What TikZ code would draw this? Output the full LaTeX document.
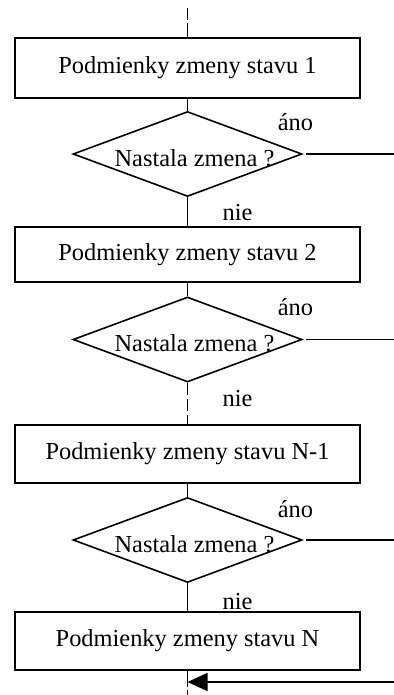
\documentclass[tikz,border=0pt]{standalone}
\usepackage{fontspec}
\setmainfont{Liberation Serif}
\usetikzlibrary{shapes.geometric,arrows.meta,calc}

\begin{document}
\begin{tikzpicture}[x=0.5pt, y=-0.5pt, line width=0.8pt,
    font=\fontsize{12.2}{14}\selectfont,
    stav/.style={draw, rectangle, minimum width=172.5pt, inner sep=0pt},
    otazka/.style={draw, diamond, minimum width=114.5pt, minimum height=42.5pt, inner sep=0pt},
    prerus/.style={dash pattern=on 6pt off 2pt}]

        \useasboundingbox (0,0) rectangle (394,695);

        % Vstup
        \coordinate (vstup) at (187.5,8);

        % Stav 1
        \node[stav, minimum height=30pt] (s1) at (187.5,68) {Podmienky zmeny stavu 1};
        \node[otazka, label={[xshift=3.5pt, yshift=-2pt]center:Nastala zmena ?}] (o1) at (187.5,154) {};
        \coordinate (v1) at (394,154);

        % Stav 2
        \node[stav, minimum height=27.5pt] (s2) at (187.5,254.5) {Podmienky zmeny stavu 2};
        \node[otazka, label={[xshift=3.5pt, yshift=-2pt]center:Nastala zmena ?}] (o2) at (187.5,339.5) {};
        \coordinate (v2) at (394,339.5);

        % Stav N-1
        \node[stav, minimum height=29pt] (s3) at (187.5,454) {Podmienky zmeny stavu N-1};
        \node[otazka, label={[xshift=3.5pt, yshift=-2pt]center:Nastala zmena ?}] (o3) at (187.5,540) {};
        \coordinate (v3) at (394,540);

        % Stav N
        \node[stav, minimum height=29pt] (s4) at (187.5,641) {Podmienky zmeny stavu N};

        % Navrat a vystup
        \coordinate (navrat) at (394,682);
        \coordinate (koniec) at (187.5,695);

        % Spojenia
        \draw[dash pattern=on 6pt off 1.5pt on 10pt] (vstup) -- (s1);
        \draw (s1) -- (o1);
        \draw (o1) -- (s2);
        \draw (s2) -- (o2);
        \draw[prerus] (o2) -- (s3);
        \draw (s3) -- (o3);
        \draw (o3) -- (s4);
        \draw[dash pattern=on 8pt off 1.5pt] (s4) -- (koniec);

        % Vetvy áno
        \draw[shorten <=1.5pt] (o1.east) -- (v1);
        \draw[shorten <=1.5pt] (o2.east) -- (v2);
        \draw[shorten <=1.5pt] (o3.east) -- (v3);
        \draw[-{Triangle[length=10pt, width=9pt]}] (navrat) -- (navrat -| s4);

        % Popisy
        \node at ($(o1)+(108,-32)$) {áno};
        \node at ($(o1.south)+(50,15)$) {nie};
        \node at ($(o2)+(108,-32)$) {áno};
        \node at ($(o2.south)+(50,16)$) {nie};
        \node at ($(o3)+(108,-31)$) {áno};
        \node at ($(o3.south)+(50,18)$) {nie};

    \end{tikzpicture}
\end{document}
